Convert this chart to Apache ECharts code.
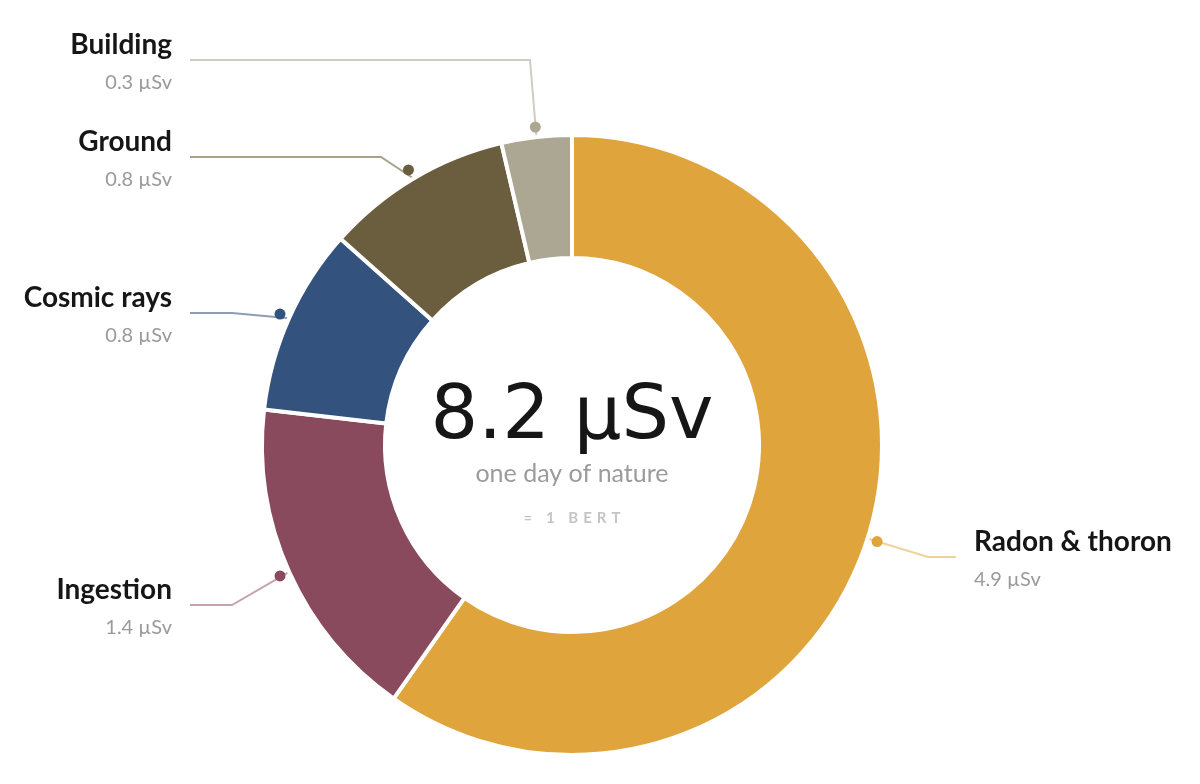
<!DOCTYPE html>
<html>
<head>
<meta charset="utf-8">
<style>
  html, body { margin: 0; padding: 0; background: #fff; }
  #chart { width: 1200px; height: 784px; }
</style>
<script src="https://cdn.jsdelivr.net/npm/echarts@6/dist/echarts.min.js"></script>
</head>
<body>
<div id="chart"></div>
<script>
// daily natural background dose, by source (µSv)
const sources = ["Radon & thoron", "Ingestion", "Cosmic rays", "Ground", "Building"];
const doses = [4.9, 1.4, 0.8, 0.8, 0.3];
const totalLabel = "8.2 µSv";
const subtitle = "one day of nature";
const footnote = "= 1 BERT";

const colors = ["#e0a43d", "#8a4a5e", "#33527e", "#6b5e3f", "#aca793"];
const lineColors = ["#efd39b", "#c6a3ae", "#8e9db6", "#a6a28c", "#cfccc2"];
// where each label sits: [x, y, align], and the flat run of its leader line
const labelSpots = [
  [956, 557, "left"],
  [190, 605, "right"],
  [190, 313, "right"],
  [190, 157, "right"],
  [190, 60, "right"]
];
const flatRun = [28, 42, 42, 191, 340];

const CX = 572, CY = 445;

const total = doses.reduce((a, b) => a + b, 0);
let acc = 0;
const dots = doses.map((v, i) => {
  const mid = (acc + v / 2) / total * 360;
  acc += v;
  return { value: [1, mid], itemStyle: { color: colors[i], opacity: 1 } };
});

// spread the small caps line out a bit (no letter-spacing in canvas text)
const spaced = footnote.split("").join("\u2004");

const chart = echarts.init(document.getElementById("chart"));

chart.setOption({
  animation: false,
  polar: { center: [CX, CY], radius: 320 },
  angleAxis: { type: "value", min: 0, max: 360, startAngle: 90, clockwise: true, show: false },
  radiusAxis: { type: "value", min: 0, max: 1, show: false },
  graphic: [
    {
      type: "text", x: CX, y: 419,
      style: { text: totalLabel, font: "75px 'DejaVu Sans'", fill: "#161616", textAlign: "center", textVerticalAlign: "middle" }
    },
    {
      type: "text", x: CX, y: 474,
      style: { text: subtitle, font: "25px Lato", fill: "#9b9b9b", textAlign: "center", textVerticalAlign: "middle" }
    },
    {
      type: "text", x: CX, y: 518,
      style: { text: spaced, font: "bold 15px Lato", fill: "#c4c4c4", textAlign: "center", textVerticalAlign: "middle" }
    }
  ],
  series: [
    {
      type: "pie",
      center: [CX, CY],
      radius: [187, 310],
      startAngle: 90,
      clockwise: true,
      avoidLabelOverlap: false,
      emphasis: { disabled: true },
      itemStyle: { borderColor: "#fff", borderWidth: 4 },
      label: {
        show: true,
        position: "outside",
        backgroundColor: "rgba(255,255,255,0)",
        padding: [0, 18, 0, 18],
        formatter: (p) => "{n|" + p.name + "}\n{v|" + p.value + " µSv}",
        rich: {
          n: { fontFamily: "Lato", fontSize: 28, fontWeight: "bold", color: "#161616", lineHeight: 46 },
          v: { fontFamily: "Lato", fontSize: 20, color: "#9a9a9a", lineHeight: 30 }
        }
      },
      labelLine: { show: true, lineStyle: { width: 2 } },
      labelLayout: (params) => {
        const s = labelSpots[params.dataIndex];
        return { x: s[0], y: s[1], align: s[2], verticalAlign: "middle" };
      },
      data: sources.map((name, i) => ({
        name: name,
        value: doses[i],
        itemStyle: { color: colors[i] },
        labelLine: { length2: flatRun[i], lineStyle: { color: lineColors[i], width: 2 } }
      }))
    },
    {
      type: "scatter",
      coordinateSystem: "polar",
      symbolSize: 11,
      silent: true,
      z: 5,
      itemStyle: { opacity: 1 },
      data: dots
    }
  ]
});
</script>
</body>
</html>
